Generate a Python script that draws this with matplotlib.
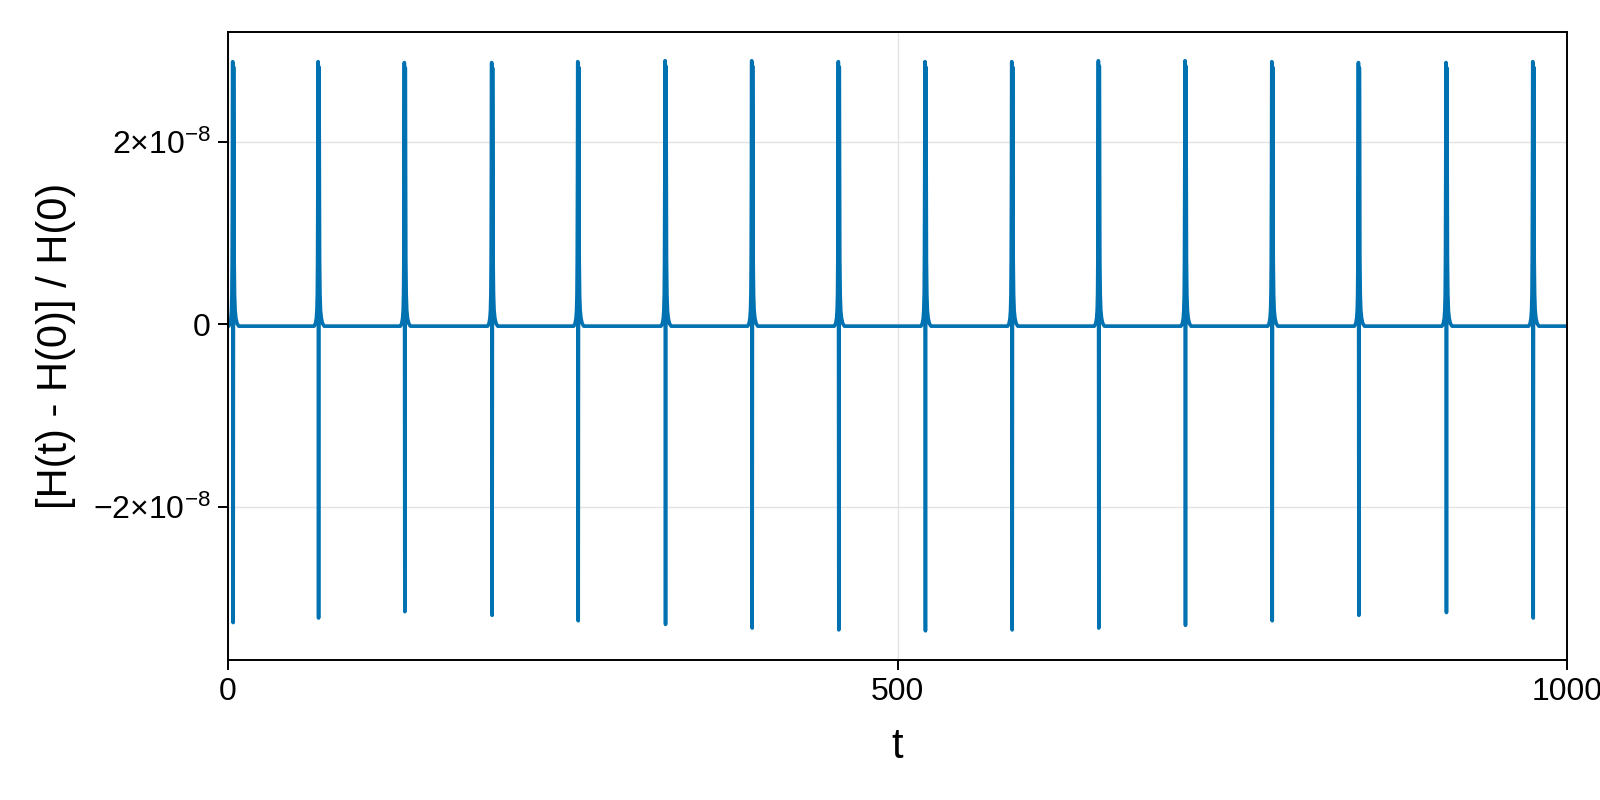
import matplotlib.pyplot as plt
from matplotlib.ticker import FixedLocator, FuncFormatter

plt.rcParams['font.family'] = ['Liberation Sans', 'DejaVu Sans']
plt.rcParams['mathtext.fontset'] = 'custom'
plt.rcParams['mathtext.rm'] = 'Liberation Sans'
plt.rcParams['mathtext.it'] = 'Liberation Sans:italic'

# Times of the close approaches (spikes).
spike_t = [3.5, 67.3, 131.7, 196.9, 261.2, 326.4, 391.1, 455.8,
           520.5, 585.3, 650.0, 714.7, 779.5, 844.2, 909.6, 974.4]
# Peak and trough of each spike, in units of 1e-8.
spike_peak = [2.88, 2.88, 2.87, 2.87, 2.88, 2.89, 2.89, 2.88,
              2.88, 2.88, 2.89, 2.89, 2.88, 2.87, 2.87, 2.88]
spike_trough = [-3.27, -3.22, -3.15, -3.19, -3.25, -3.29, -3.33, -3.35,
                -3.36, -3.35, -3.33, -3.30, -3.25, -3.19, -3.16, -3.22]
baseline = -0.02

# Shape of one spike as seen in the picture: offset in t, share of the peak.
rise_dt = [-3.0, -2.0, -1.3, -0.9, -0.6, -0.4, -0.2, 0.0]
rise_frac = [0.0, 0.01, 0.03, 0.06, 0.12, 0.25, 0.55, 1.0]
trough_dt = 0.35
fall_dt = [0.7, 0.9, 1.1, 1.4, 1.8, 2.4, 3.3, 4.5]
fall_frac = [0.98, 0.55, 0.25, 0.12, 0.06, 0.03, 0.01, 0.0]

t_min, t_max = 0, 1000

# Build the curve.
ts = [t_min]
hs = [baseline]
for tk, pk, tr in zip(spike_t, spike_peak, spike_trough):
    for dt, fr in zip(rise_dt, rise_frac):
        if tk + dt > t_min:
            ts.append(tk + dt)
            hs.append(baseline + fr * (pk - baseline))
    ts.append(tk + trough_dt)
    hs.append(tr)
    for dt, fr in zip(fall_dt, fall_frac):
        ts.append(tk + dt)
        hs.append(baseline + fr * (pk - baseline))
ts.append(t_max)
hs.append(baseline)
hs = [h * 1e-8 for h in hs]


def sci_label(v, pos):
    m = round(v / 1e-8)
    if m == 0:
        return "0"
    sign = "\u2212" if m < 0 else ""
    return f"{sign}{abs(m)}\u00d710$^{{-8}}$"


fig = plt.figure(figsize=(16, 8), dpi=100)
ax = fig.add_axes([0.1425, 0.175, 0.8369, 0.785])
ax.plot(ts, hs, color="#0072B2", linewidth=2.6)

ax.set_xlim(t_min, t_max)
ax.set_ylim(-3.68e-8, 3.205e-8)
ax.xaxis.set_major_locator(FixedLocator([0, 500, 1000]))
ax.yaxis.set_major_locator(FixedLocator([-2e-8, 0, 2e-8]))
ax.yaxis.set_major_formatter(FuncFormatter(sci_label))
ax.grid(True, color="#e3e3e3", linewidth=1.0)
ax.set_axisbelow(True)

for s in ax.spines.values():
    s.set_linewidth(1.4)
ax.tick_params(direction="out", length=7.5, width=1.4, labelsize=23, pad=5)

ax.set_xlabel("t", fontsize=30, labelpad=14)
ax.set_ylabel("[H(t) - H(0)] / H(0)", fontsize=30, labelpad=12)

fig.savefig("out.png", dpi=100)
